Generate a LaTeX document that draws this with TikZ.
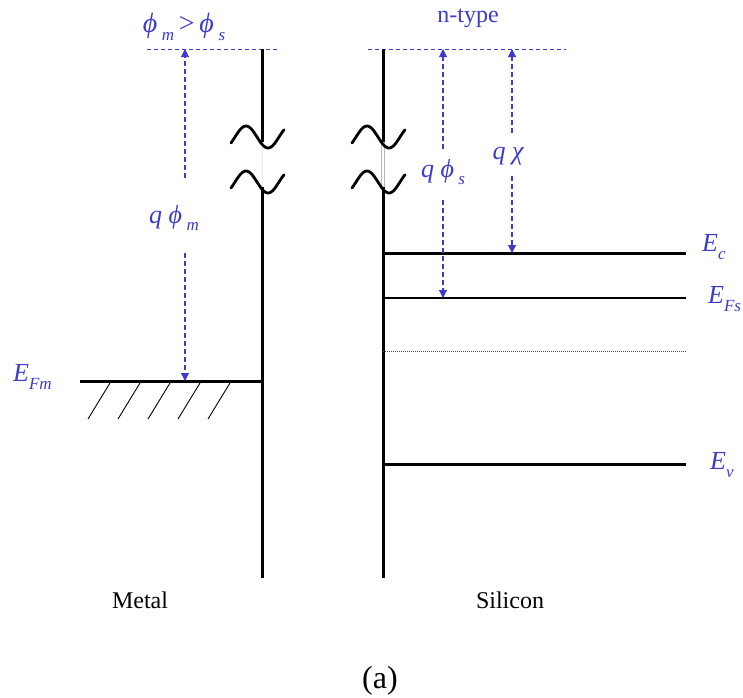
\documentclass[tikz,border=0pt]{standalone}
\usepackage{fontspec}
\setmainfont{Liberation Serif}
\usetikzlibrary{arrows.meta}
\definecolor{eblue}{RGB}{60,60,200}
\newcommand{\lowsub}[1]{\raisebox{-0.65ex}{\fontsize{17}{17}\selectfont #1}}
\begin{document}
\begin{tikzpicture}[x=1pt,y=-1pt,
  lbl/.style={text=eblue, font=\fontsize{26}{28}\selectfont\itshape, inner sep=0pt},
  plain/.style={font=\fontsize{24}{26}\selectfont, inner sep=0pt},
  band/.style={line width=3pt},
  thinband/.style={line width=2pt},
  wall/.style={line width=3pt},
  wave/.style={line width=2.8pt, line cap=round},
  vac/.style={eblue, line width=0.8pt, dash pattern=on 4pt off 3pt},
  darrow/.style={eblue, line width=1.1pt, dash pattern=on 5pt off 3pt, -{Triangle[length=8pt,width=8pt]}},
  midgap/.style={black!70, line width=0.8pt, dash pattern=on 1pt off 1pt},
  hatch/.style={line width=0.9pt}]
\useasboundingbox (0,0) rectangle (743,697);

% vacuum levels
\coordinate (vL1) at (147,49); \coordinate (vL2) at (278,49);
\coordinate (vR1) at (368,49); \coordinate (vR2) at (566,49);
\draw[vac] (vL1) -- (vL2);
\draw[vac] (vR1) -- (vR2);

% walls
\coordinate (mTop) at (262,49); \coordinate (mB1) at (262,142);
\coordinate (mB2) at (262,187); \coordinate (mBot) at (262,578);
\coordinate (sTop) at (383,49); \coordinate (sB1) at (383,142);
\coordinate (sB2) at (383,187); \coordinate (sBot) at (383,578);
\draw[wall] (mTop) -- (mB1);
\draw[wall] (mB2) -- (mBot);
\draw[wall] (sTop) -- (sB1);
\draw[wall] (sB2) -- (sBot);
\draw[gray!15, line width=0.6pt] (mB1) -- (mB2);
\draw[gray!55, line width=0.6pt] ([xshift=-1.5pt]sB1) -- ([xshift=-1.5pt]sB2);
\draw[gray!55, line width=0.6pt] ([xshift=1.5pt]sB1) -- ([xshift=1.5pt]sB2);

% break waves
\foreach \cx in {231,352}{
  \foreach \dy in {0,45}{
    \draw[wave] plot[domain=0:53, samples=40, smooth] ({\cx+\x}, {137+\dy-11*sin((\x-4)*8.1818)});
  }
}

% metal Fermi level and hatching
\coordinate (efm1) at (80,381); \coordinate (efm2) at (262,381);
\draw[band] (efm1) -- (efm2);
\foreach \i in {0,...,4}{
  \draw[hatch] (88+30*\i,419) -- (110+30*\i,383);
}

% silicon bands
\coordinate (ec1) at (383,253); \coordinate (ec2) at (686,253);
\coordinate (ef1) at (383,298); \coordinate (ef2) at (686,298);
\coordinate (ei1) at (383,351); \coordinate (ei2) at (686,351);
\coordinate (ev1) at (383,464); \coordinate (ev2) at (686,464);
\draw[band] (ec1) -- (ec2);
\draw[thinband] (ef1) -- (ef2);
\draw[midgap] (ei1) -- (ei2);
\draw[band] (ev1) -- (ev2);

% energy arrows
\node[lbl] (qpm) at (174,218) {q ϕ\,\lowsub{m}};
\coordinate (apmT) at (185,49); \coordinate (apmB) at (185,381);
\coordinate (apm1) at (185,178); \coordinate (apm2) at (185,253);
\draw[darrow] (apm1) -- (apmT);
\draw[darrow] (apm2) -- (apmB);

\node[lbl] (qps) at (443,172) {q ϕ\,\lowsub{s}};
\coordinate (apsT) at (443,49); \coordinate (apsB) at (443,298);
\coordinate (aps1) at (443,149); \coordinate (aps2) at (443,200);
\draw[darrow] (aps1) -- (apsT);
\draw[darrow] (aps2) -- (apsB);

\node[lbl] (qchi) at (508,156) {q χ};
\coordinate (achT) at (512,49); \coordinate (achB) at (512,253);
\coordinate (ach1) at (512,133); \coordinate (ach2) at (512,176);
\draw[darrow] (ach1) -- (achT);
\draw[darrow] (ach2) -- (achB);

% labels
\node[lbl, font=\fontsize{28}{30}\selectfont\itshape] (cmp) at (184,27) {ϕ\,\lowsub{m}\,{\upshape >}\,ϕ\,\lowsub{s}};
\node[plain, text=eblue] (ntype) at (468,18) {n-type};
\node[lbl, anchor=west] (lEfm) at (13,377) {E\lowsub{Fm}};
\node[lbl, anchor=west] (lEc) at (702,247) {E\lowsub{c}};
\node[lbl, anchor=west] (lEfs) at (708,299) {E\lowsub{Fs}};
\node[lbl, anchor=west] (lEv) at (710,465) {E\lowsub{v}};
\node[plain] (metal) at (140,600) {Metal};
\node[plain] (silicon) at (510,600) {Silicon};
\node[font=\fontsize{32}{34}\selectfont, inner sep=0pt] (cap) at (380,681) {(a)};
\end{tikzpicture}
\end{document}
